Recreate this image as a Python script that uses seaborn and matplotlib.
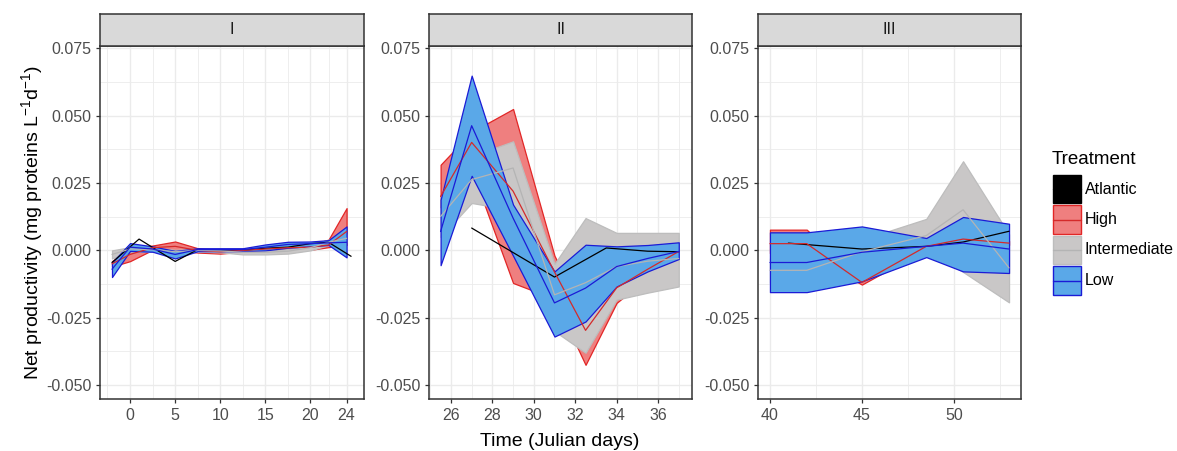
import numpy as np
import pandas as pd
import matplotlib
matplotlib.use("Agg")
import matplotlib.pyplot as plt
import seaborn as sns
from matplotlib.patches import Rectangle
from matplotlib.lines import Line2D

sns.set_theme(style="white")
plt.rcParams['font.family'] = ['Liberation Sans', 'DejaVu Sans']
plt.rcParams['mathtext.fontset'] = 'custom'
plt.rcParams['mathtext.rm'] = 'Liberation Sans'
plt.rcParams['mathtext.it'] = 'Liberation Sans:italic'

# ---------------- data ----------------
phases = ["I", "II", "III"]
treatments = ["Atlantic", "High", "Intermediate", "Low"]

# Phase I
days_I = [-2, 0, 2.5, 5, 7.5, 10, 12.5, 15, 17.5, 20, 22, 24]
low_mean_I = [-0.0070, 0.0012, 0.0005, -0.0015, 0.0003, 0.0003, 0.0003, 0.0012, 0.0022, 0.0025, 0.0028, 0.0030]
low_lo_I = [-0.0099, -0.0002, -0.0005, -0.0030, -0.0003, -0.0003, -0.0003, 0.0000, 0.0010, 0.0015, 0.0020, -0.0026]
low_hi_I = [-0.0045, 0.0027, 0.0015, -0.0002, 0.0008, 0.0008, 0.0008, 0.0022, 0.0032, 0.0033, 0.0038, 0.0089]
high_mean_I = [-0.0050, -0.0015, 0.0010, 0.0015, 0.0000, -0.0005, 0.0000, 0.0005, 0.0010, 0.0012, 0.0020, 0.0070]
high_lo_I = [-0.0060, -0.0040, 0.0002, 0.0000, -0.0008, -0.0012, -0.0005, 0.0000, 0.0005, 0.0002, 0.0012, 0.0020]
high_hi_I = [-0.0040, 0.0008, 0.0018, 0.0033, 0.0008, 0.0002, 0.0005, 0.0010, 0.0018, 0.0020, 0.0040, 0.0157]
int_mean_I = [-0.0015, 0.0005, 0.0003, -0.0005, 0.0000, -0.0002, -0.0007, -0.0007, -0.0003, 0.0010, 0.0030, 0.0045]
int_lo_I = [-0.0030, -0.0005, -0.0005, -0.0012, -0.0005, -0.0007, -0.0015, -0.0015, -0.0012, 0.0000, 0.0020, 0.0030]
int_hi_I = [0.0000, 0.0012, 0.0010, 0.0002, 0.0005, 0.0003, 0.0000, 0.0000, 0.0005, 0.0020, 0.0040, 0.0060]
atl_days_I = [-2, 1, 5, 7.5, 10, 12.5, 15, 17.5, 20, 22, 24.5]
atl_mean_I = [-0.0045, 0.0042, -0.0041, 0.0003, 0.0002, 0.0000, 0.0008, 0.0012, 0.0025, 0.0030, -0.0022]

# Phase II
days_II = [25.5, 27, 29, 31, 32.5, 34, 35.5, 37]
low_mean_II = [0.0070, 0.0463, 0.0120, -0.0195, -0.0140, -0.0060, -0.0030, -0.0004]
low_lo_II = [-0.0055, 0.0277, -0.0020, -0.0320, -0.0264, -0.0134, -0.0078, -0.0032]
low_hi_II = [0.0188, 0.0649, 0.0170, -0.0078, 0.0021, 0.0015, 0.0020, 0.0030]
high_mean_II = [0.0200, 0.0401, 0.0220, -0.0080, -0.0297, -0.0139, -0.0070, -0.0004]
high_lo_II = [0.0160, 0.0300, -0.0121, -0.0180, -0.0425, -0.0195, -0.0100, -0.0010]
high_hi_II = [0.0318, 0.0440, 0.0525, -0.0020, -0.0250, -0.0110, -0.0050, 0.0000]
int_mean_II = [0.0126, 0.0263, 0.0306, -0.0165, -0.0120, -0.0060, -0.0040, -0.0030]
int_lo_II = [0.0050, 0.0176, 0.0150, -0.0300, -0.0380, -0.0183, -0.0157, -0.0134]
int_hi_II = [0.0200, 0.0350, 0.0405, -0.0050, 0.0120, 0.0065, 0.0065, 0.0065]
atl_days_II = [27, 31, 33.5, 35.5, 37]
atl_mean_II = [0.0083, -0.0099, 0.0009, -0.0003, -0.0005]

# Phase III
days_III = [40, 42, 45, 48.5, 50.5, 53]
low_mean_III = [-0.0045, -0.0045, -0.0007, 0.0015, 0.0027, 0.0005]
low_lo_III = [-0.0155, -0.0155, -0.0115, -0.0025, -0.0078, -0.0084]
low_hi_III = [0.0067, 0.0067, 0.0089, 0.0046, 0.0124, 0.0099]
high_mean_III = [0.0025, 0.0025, -0.0119, 0.0015, 0.0042, 0.0027]
high_lo_III = [-0.0010, -0.0010, -0.0127, 0.0005, 0.0030, 0.0020]
high_hi_III = [0.0077, 0.0077, -0.0110, 0.0025, 0.0050, 0.0035]
int_mean_III = [-0.0074, -0.0074, -0.0005, 0.0055, 0.0151, -0.0065]
int_lo_III = [-0.0120, -0.0120, -0.0050, 0.0000, -0.0080, -0.0193]
int_hi_III = [-0.0030, -0.0030, 0.0040, 0.0117, 0.0331, 0.0060]
atl_days_III = [41, 45, 48.5, 50.5, 53]
atl_mean_III = [0.0027, 0.0005, 0.0015, 0.0031, 0.0071]

x_ticks = {"I": [0, 5, 10, 15, 20, 24], "II": [26, 28, 30, 32, 34, 36], "III": [40, 45, 50]}
y_ticks = [-0.050, -0.025, 0.000, 0.025, 0.050, 0.075]
y_labels = ["-0.050", "-0.025", "0.000", "0.025", "0.050", "0.075"]

# ---------------- build table ----------------
rows = []
def add(phase, tr, d, m, lo, hi):
    for a, b, c, e in zip(d, m, lo, hi):
        rows.append(dict(Phase=phase, Treatment=tr, Day=a, Mean=b, Lower=c, Upper=e))

add("I", "Atlantic", atl_days_I, atl_mean_I, atl_mean_I, atl_mean_I)
add("I", "High", days_I, high_mean_I, high_lo_I, high_hi_I)
add("I", "Intermediate", days_I, int_mean_I, int_lo_I, int_hi_I)
add("I", "Low", days_I, low_mean_I, low_lo_I, low_hi_I)
add("II", "Atlantic", atl_days_II, atl_mean_II, atl_mean_II, atl_mean_II)
add("II", "High", days_II, high_mean_II, high_lo_II, high_hi_II)
add("II", "Intermediate", days_II, int_mean_II, int_lo_II, int_hi_II)
add("II", "Low", days_II, low_mean_II, low_lo_II, low_hi_II)
add("III", "Atlantic", atl_days_III, atl_mean_III, atl_mean_III, atl_mean_III)
add("III", "High", days_III, high_mean_III, high_lo_III, high_hi_III)
add("III", "Intermediate", days_III, int_mean_III, int_lo_III, int_hi_III)
add("III", "Low", days_III, low_mean_III, low_lo_III, low_hi_III)
df = pd.DataFrame(rows)

fill_col = {"Atlantic": "#000000", "High": "#EF7F7F", "Intermediate": "#C9C7C7", "Low": "#5AA8E8"}
edge_col = {"Atlantic": "#000000", "High": "#E22626", "Intermediate": "#BDBDBD", "Low": "#1B1BD6"}
line_col = {"Atlantic": "#000000", "High": "#D42A2A", "Intermediate": "#B4B4B4", "Low": "#1B1BD6"}

# ---------------- layout ----------------
W, H = 1177, 451
fig = plt.figure(figsize=(W / 100, H / 100), dpi=100)
fig.patch.set_facecolor("white")

panel_px = {"I": (100, 364), "II": (429, 692), "III": (758, 1021)}
top_px, bot_px, strip_top_px = 46, 399.3, 14
xlims = {"I": (-3.33, 25.93), "II": (24.94, 37.64), "III": (39.35, 53.65)}
ylim = (-0.0553, 0.0759)

def minor_between(t, lo, hi):
    t = sorted(t)
    step = t[1] - t[0]
    ext = [t[0] - step] + t + [t[-1] + step]
    mids = [(a + b) / 2 for a, b in zip(ext[:-1], ext[1:])]
    return [m for m in mids if lo < m < hi]

grid_c = "#EBEBEB"
for ph in phases:
    l, r = panel_px[ph]
    ax = fig.add_axes([l / W, 1 - bot_px / H, (r - l) / W, (bot_px - top_px) / H])
    ax.set_facecolor("white")
    ax.set_xlim(*xlims[ph])
    ax.set_ylim(*ylim)
    sub = df[df.Phase == ph]
    for tr in ["High", "Intermediate", "Low"]:
        s = sub[sub.Treatment == tr]
        ax.fill_between(s.Day, s.Lower, s.Upper, facecolor=fill_col[tr],
                        edgecolor=edge_col[tr], linewidth=0.9, zorder=2)
    sns.lineplot(data=sub, x="Day", y="Mean", hue="Treatment", hue_order=treatments,
                 palette=line_col, estimator=None, sort=False, legend=False,
                 linewidth=0.9, ax=ax, zorder=3)
    ax.set_xlabel("")
    ax.set_ylabel("")
    xt = x_ticks[ph]
    ax.set_xticks(xt)
    ax.set_xticklabels([str(v) for v in xt])
    ax.set_xticks(minor_between(xt, *xlims[ph]), minor=True)
    ax.set_yticks(y_ticks)
    ax.set_yticklabels(y_labels)
    ax.set_yticks(minor_between(y_ticks, *ylim), minor=True)
    ax.grid(True, which="major", color=grid_c, linewidth=1.0, zorder=0)
    ax.grid(True, which="minor", color=grid_c, linewidth=0.6, zorder=0)
    ax.set_axisbelow(True)
    ax.tick_params(which="major", length=3, width=0.9, color="#333333",
                   labelsize=11.5, labelcolor="#4D4D4D", pad=3,
                   bottom=True, left=True)
    ax.tick_params(which="minor", length=0)
    for sp in ax.spines.values():
        sp.set_color("#333333")
        sp.set_linewidth(1.1)
        sp.set_zorder(5)
    # strip
    sax = fig.add_axes([l / W, 1 - top_px / H, (r - l) / W, (top_px - strip_top_px) / H])
    sax.set_facecolor("#D9D9D9")
    sax.set_xticks([])
    sax.set_yticks([])
    for sp in sax.spines.values():
        sp.set_color("#333333")
        sp.set_linewidth(1.1)
    sax.text(0.5, 0.5, ph, ha="center", va="center", fontsize=11.5, color="#1A1A1A",
             transform=sax.transAxes)

# axis titles
fig.text(560 / W, 1 - 441 / H, "Time (Julian days)", ha="center", va="center",
         fontsize=14, color="black")
fig.text(32 / W, 1 - 222 / H, r"Net productivity (mg proteins L$^{-1}$d$^{-1}$)",
         ha="center", va="center", rotation=90, fontsize=14, color="black")

# legend (manual, ggplot-like)
fig.text(1052 / W, 1 - 160 / H, "Treatment", ha="left", va="center", fontsize=13.5, color="black")
key_rows = [(175, 203), (205, 234), (236, 264), (266, 295)]
kx0, kx1 = 1053, 1081
for tr, (y0, y1) in zip(treatments, key_rows):
    rect = Rectangle((kx0 / W, 1 - y1 / H), (kx1 - kx0) / W, (y1 - y0) / H,
                     transform=fig.transFigure, facecolor=fill_col[tr],
                     edgecolor=edge_col[tr], linewidth=1.0)
    fig.add_artist(rect)
    ym = 1 - (y0 + y1) / 2 / H
    fig.add_artist(Line2D([kx0 / W, kx1 / W], [ym, ym], transform=fig.transFigure,
                          color=line_col[tr], linewidth=1.0))
    fig.text(1085 / W, ym, tr, ha="left", va="center", fontsize=11.5, color="black")

fig.savefig("out.png", dpi=100)
